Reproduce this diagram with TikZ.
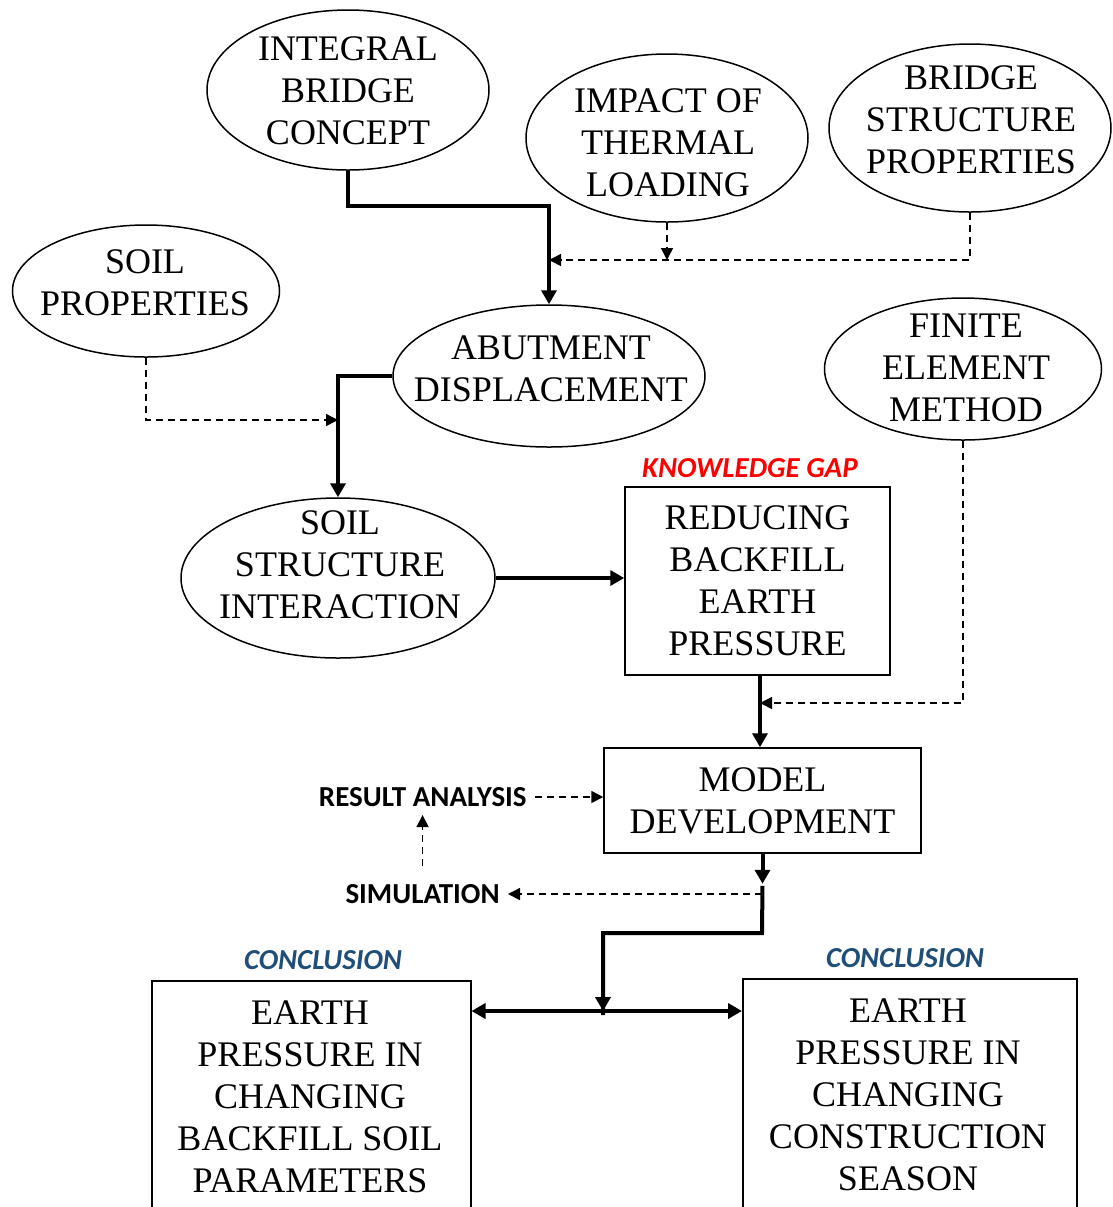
\documentclass[tikz,border=0pt]{standalone}
\usepackage{fontspec}
\setmainfont{Liberation Serif}
\newfontfamily\lab{Carlito}
\usetikzlibrary{shapes.geometric,arrows.meta}
\definecolor{concblue}{RGB}{31,78,121}
\begin{document}
\begin{tikzpicture}[x=0.5pt,y=-0.5pt,
 every node/.style={font=\fontsize{18}{21}\selectfont, align=center, inner sep=0pt},
 ell/.style={draw, ellipse, line width=0.75pt},
 box/.style={draw, rectangle, line width=0.75pt},
 thk/.style={line width=2pt, -{Triangle[length=7pt,width=7.5pt]}},
 thkline/.style={line width=2pt},
 dsh/.style={line width=0.75pt, dash pattern=on 3.5pt off 2.5pt, -{Triangle[length=6pt,width=6pt]}},
 lbl/.style={font=\lab\bfseries\fontsize{14.5}{16}\selectfont, inner sep=4pt},
 ilbl/.style={font=\lab\bfseries\itshape\fontsize{14.5}{16}\selectfont},
]
\useasboundingbox (0,0) rectangle (1113,1207);
\clip (0,0) rectangle (1113,1207);

% ellipses
\node[ell, minimum width=141pt, minimum height=80pt] (ibc) at (348,90) {};
\node (ibct) at (348,91) {INTEGRAL\\BRIDGE\\CONCEPT};
\node[ell, minimum width=141pt, minimum height=84pt] (itl) at (667,138) {};
\node (itlt) at (668,143) {IMPACT OF\\THERMAL\\LOADING};
\node[ell, minimum width=141pt, minimum height=84pt] (bsp) at (970,128) {};
\node (bspt) at (971,120) {BRIDGE\\STRUCTURE\\PROPERTIES};
\node[ell, minimum width=133.5pt, minimum height=66pt] (sp) at (146,291) {};
\node (spt) at (145,283) {SOIL\\PROPERTIES};
\node[ell, minimum width=156pt, minimum height=71pt] (ad) at (549,376) {};
\node (adt) at (551,369) {ABUTMENT\\DISPLACEMENT};
\node[ell, minimum width=138.5pt, minimum height=71pt] (fem) at (963,369) {};
\node (femt) at (966,368) {FINITE\\ELEMENT\\METHOD};
\node[ell, minimum width=157pt, minimum height=80pt] (ssi) at (338,578) {};
\node (ssit) at (340,565) {SOIL\\STRUCTURE\\INTERACTION};

% boxes
\node[box, minimum width=132.5pt, minimum height=94pt] (rbe) at (757.5,581) {REDUCING\\BACKFILL\\EARTH\\PRESSURE};
\node[ilbl, text=red] (kg) at (750,468) {KNOWLEDGE GAP};
\node[box, minimum width=158.5pt, minimum height=52.5pt] (md) at (762.5,800.5) {MODEL\\DEVELOPMENT};

\node[lbl, anchor=east] (ra) at (535,797) {RESULT ANALYSIS};
\node[lbl, anchor=east] (sim) at (508,894) {SIMULATION};

\node[box, anchor=north west, minimum width=159.5pt, minimum height=125pt] (c1) at (151,980) {};
\node[anchor=north] (c1t) at (310,1000) {EARTH\\PRESSURE IN\\CHANGING\\BACKFILL SOIL\\PARAMETERS};
\node[ilbl, text=concblue] (c1l) at (323,960) {CONCLUSION};

\node[box, anchor=north west, minimum width=167pt, minimum height=126pt] (c2) at (742,978) {};
\node[anchor=north] (c2t) at (908,998) {EARTH\\PRESSURE IN\\CHANGING\\CONSTRUCTION\\SEASON};
\node[ilbl, text=concblue] (c2l) at (905,958) {CONCLUSION};

% connectors
\draw[thk] (ibc.south) -- ++(0,35) -| (ad.north);
\coordinate (j1) at (549,260);
\draw[dsh] (itl.south) -- (itl.south |- j1);
\draw[dsh] (bsp.south) |- (j1);

\draw[thk] (ad.west) -| (ssi.north);
\coordinate (j2) at (338,420);
\draw[dsh] (sp.south) |- (j2);

\draw[thk] (ssi.east) -- (ssi.east -| rbe.west);
\draw[thk] ([xshift=1.25pt]rbe.south) -- ([xshift=-1.25pt]md.north);
\coordinate (j3) at (760,703);
\draw[dsh] (fem.south) |- (j3);

\coordinate (j4) at (603,1011);
\coordinate (j5) at (762,894);
\coordinate (j6) at (762,933);
\draw[thk] (md.south) -- ([yshift=-15pt]md.south);
\draw[thkline] ([yshift=-16pt]md.south) -- (j6) -| ([yshift=-2pt]j4);
\draw[thk] (j6) -| (j4);
\draw[line width=2pt, {Triangle[length=7pt,width=7.5pt]}-{Triangle[length=7pt,width=7.5pt]}] (c1.east |- j4) -- (c2.west |- j4);

\draw[dsh] (j5) -- (sim.east);
\draw[dsh] (ra.east) -- (md.west |- ra.east);
\draw[dsh, shorten <=5pt] (sim.north) -- (sim.north |- ra.south);
\end{tikzpicture}
\end{document}
